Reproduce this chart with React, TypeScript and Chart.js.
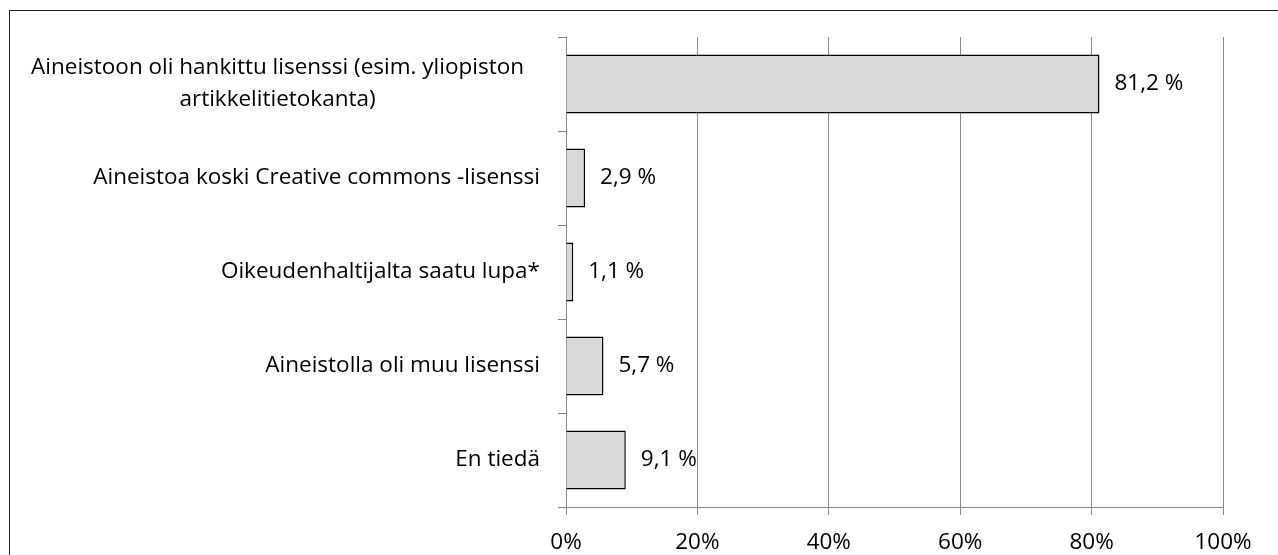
import React, { useEffect, useRef } from "react";
import { Chart, registerables } from "chart.js";

Chart.register(...registerables);

const categories: string[][] = [
  ["Aineistoon oli hankittu lisenssi (esim. yliopiston", "artikkelitietokanta)"],
  ["Aineistoa koski Creative commons -lisenssi"],
  ["Oikeudenhaltijalta saatu lupa*"],
  ["Aineistolla oli muu lisenssi"],
  ["En tiedä"],
];
const values = [81.2, 2.9, 1.1, 5.7, 9.1];
const valueLabels = ["81,2 %", "2,9 %", "1,1 %", "5,7 %", "9,1 %"];

const FONT = "'Open Sans', Lato, sans-serif";
const FONT_SIZE = 22.5;
const LINE_H = 32;
const GRID = "#878787";

const labelPlugin = {
  id: "customLabels",
  afterDraw(chart: any) {
    const ctx = chart.ctx;
    const meta = chart.getDatasetMeta(0);
    const yScale = chart.scales.y;
    ctx.save();
    ctx.font = `${FONT_SIZE}px ${FONT}`;
    ctx.fillStyle = "#000";
    ctx.textBaseline = "middle";
    // value labels
    ctx.textAlign = "left";
    meta.data.forEach((bar: any, i: number) => {
      ctx.fillText(valueLabels[i], bar.x + 15, bar.y);
    });
    // category labels
    const right = yScale.right - 26;
    categories.forEach((lines, i) => {
      const cy = yScale.getPixelForValue(i);
      const n = lines.length;
      if (n === 1) {
        ctx.textAlign = "right";
        ctx.fillText(lines[0], right, cy);
      } else {
        const maxW = Math.max(...lines.map((l) => ctx.measureText(l).width));
        const cx = right - 16 - maxW / 2;
        ctx.textAlign = "center";
        lines.forEach((l, j) => {
          ctx.fillText(l, cx, cy + (j - (n - 1) / 2) * LINE_H);
        });
      }
    });
    ctx.restore();
  },
};

export default function App() {
  const ref = useRef<HTMLCanvasElement>(null);
  useEffect(() => {
    if (!ref.current) return;
    const chart = new Chart(ref.current, {
      type: "bar",
      data: {
        labels: categories.map((c) => c.join(" ")),
        datasets: [
          {
            data: values,
            backgroundColor: "#D9D9D9",
            borderColor: "#000",
            borderWidth: 1.5,
            barPercentage: 0.63,
            categoryPercentage: 1,
          },
        ],
      },
      options: {
        indexAxis: "y",
        animation: false,
        responsive: false,
        maintainAspectRatio: false,
        layout: { padding: { left: 0, right: 55, top: 37, bottom: 0 } },
        plugins: {
          legend: { display: false },
          tooltip: { enabled: false },
        },
        scales: {
          x: {
            min: 0,
            max: 100,
            ticks: {
              stepSize: 20,
              callback: (v: any) => `${v}%`,
              color: "#000",
              font: { family: FONT, size: FONT_SIZE },
              padding: 14,
              maxRotation: 0,
            },
            grid: { color: GRID, lineWidth: 1, tickLength: 8, drawTicks: true },
            border: { color: GRID, width: 1 },
            afterFit: (s: any) => {
              s.height = 48;
            },
          },
          y: {
            ticks: { display: false },
            grid: {
              color: GRID,
              drawOnChartArea: false,
              drawTicks: true,
              tickLength: 8,
              offset: true,
            },
            border: { color: GRID, width: 1 },
            afterFit: (s: any) => {
              s.width = 566;
            },
          },
        },
      },
      plugins: [labelPlugin],
    });
    return () => chart.destroy();
  }, []);

  return (
    <div
      style={{
        position: "fixed",
        left: 0,
        top: 0,
        width: 1278,
        height: 555,
        overflow: "hidden",
        background: "#fff",
      }}
    >
      <div
        style={{
          position: "absolute",
          left: 9,
          top: 10,
          width: 1400,
          height: 700,
          border: "1px solid #222",
          boxSizing: "border-box",
        }}
      />
      <canvas
        ref={ref}
        width={1278}
        height={555}
        style={{ position: "absolute", left: 0, top: 0, width: 1278, height: 555 }}
      />
    </div>
  );
}
